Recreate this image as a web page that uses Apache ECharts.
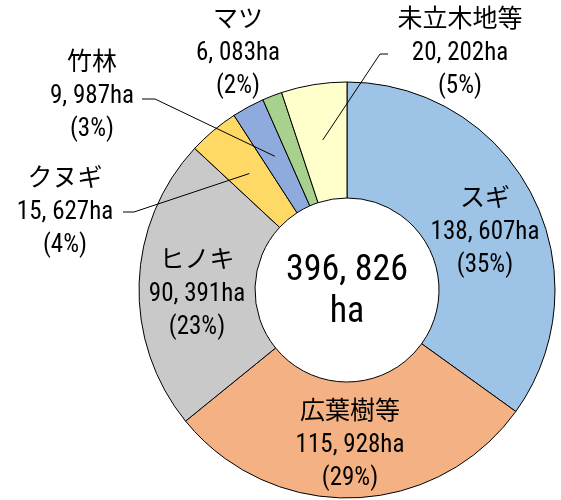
<!DOCTYPE html>
<html>
<head>
<meta charset="utf-8">
<script src="https://cdn.jsdelivr.net/npm/echarts@6/dist/echarts.min.js"></script>
<style>
  html, body { margin: 0; padding: 0; background: #fff; }
  #chart { width: 561px; height: 500px; }
</style>
</head>
<body>
<div id="chart"></div>
<script>
// 樹種別の森林面積
const categories = ['スギ', '広葉樹等', 'ヒノキ', 'クヌギ', '竹林', 'マツ', '未立木地等'];
const areas = [138607, 115928, 90391, 15627, 9987, 6083, 20202];
const percents = [35, 29, 23, 4, 3, 2, 5];
const totalArea = 396826;

const colors = ['#9DC3E6', '#F4B183', '#C9C9C9', '#FFD966', '#8FAADC', '#A9D18E', '#FFFFCC'];
const font = "'Roboto Condensed', 'Noto Sans CJK JP', sans-serif";
const cx = 347, cy = 290;
const anchorR = 152;

// ラベルの位置 (文字ブロックの中心) と引き出し線の終点
const labelPos = {
  'スギ': { x: 485, y: 233 },
  '広葉樹等': { x: 350, y: 446 },
  'ヒノキ': { x: 197, y: 295 },
  'クヌギ': { x: 65, y: 213, end: [123, 212], bend: 134 },
  '竹林': { x: 92, y: 97, end: [142, 99], bend: 155 },
  'マツ': { x: 238, y: 54 },
  '未立木地等': { x: 460, y: 54, end: [388, 54], bend: 380 }
};

function fmt(n) {
  return n.toLocaleString('en-US').replace(/,/g, ', ');
}

// 扇形の中央角にある引き出し線の始点
function anchorOf(i) {
  const sum = areas.reduce((a, b) => a + b, 0);
  let before = 0;
  for (let k = 0; k < i; k++) before += areas[k];
  const a = (before + areas[i] / 2) / sum * Math.PI * 2;
  return [cx + anchorR * Math.sin(a), cy - anchorR * Math.cos(a)];
}

const chart = echarts.init(document.getElementById('chart'));
chart.setOption({
  animation: false,
  graphic: [{
    type: 'text',
    x: cx,
    y: 292,
    style: {
      text: fmt(totalArea) + '\nha',
      fontSize: 36,
      lineHeight: 42,
      fontFamily: font,
      fill: '#000',
      align: 'center',
      verticalAlign: 'middle'
    }
  }],
  series: [
    {
      type: 'pie',
      center: [cx, cy],
      radius: [92, 208],
      startAngle: 90,
      clockwise: true,
      silent: true,
      avoidLabelOverlap: false,
      itemStyle: { borderColor: '#000', borderWidth: 1 },
      label: { show: false },
      labelLine: { show: false },
      emphasis: { disabled: true },
      data: categories.map((c, i) => ({ name: c, value: areas[i], itemStyle: { color: colors[i] } }))
    },
    {
      // ラベル用の透明な系列
      type: 'pie',
      center: [cx, cy],
      radius: [92, anchorR],
      startAngle: 90,
      clockwise: true,
      silent: true,
      avoidLabelOverlap: false,
      z: 3,
      itemStyle: { color: 'rgba(0,0,0,0)', borderWidth: 0 },
      emphasis: { disabled: true },
      label: {
        show: true,
        position: 'outside',
        formatter: p => p.name + '\n' + fmt(p.value) + 'ha\n(' + percents[p.dataIndex] + '%)',
        fontSize: 25,
        lineHeight: 33,
        fontFamily: font,
        color: '#000'
      },
      labelLine: { show: true, lineStyle: { color: '#000', width: 1 } },
      labelLayout: params => {
        const name = categories[params.dataIndex];
        const pos = labelPos[name];
        const res = { x: pos.x, y: pos.y, align: 'center', verticalAlign: 'middle' };
        if (pos.end) {
          res.labelLinePoints = [anchorOf(params.dataIndex), [pos.bend, pos.end[1]], pos.end];
        }
        return res;
      },
      data: categories.map((c, i) => ({
        name: c,
        value: areas[i],
        labelLine: { show: !!labelPos[c].end }
      }))
    }
  ]
});
</script>
</body>
</html>
